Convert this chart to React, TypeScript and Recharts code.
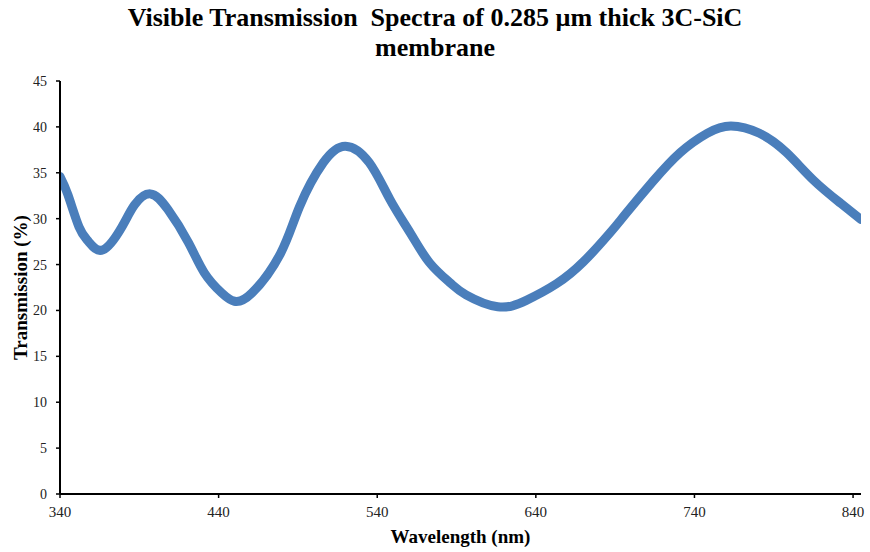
import { LineChart, Line, XAxis, YAxis } from 'recharts';

const wavelengths = [
  340, 345, 352, 358, 367, 379, 387, 397, 408, 421, 431, 442, 450, 461, 479, 491, 506, 520, 535, 548,
  561, 573, 586, 596, 616, 634, 653, 670, 687, 697, 714, 731, 748, 763, 781, 798, 815, 832, 845,
];
const transmission = [
  34.6, 32.6, 29.1, 27.5, 26.6, 29.1, 31.5, 32.7, 31.0, 27.4, 24.1, 21.9, 21.0, 21.9, 26.2, 31.3, 36.1, 37.9, 36.1, 32.1,
  28.4, 25.2, 23.0, 21.7, 20.4, 21.1, 22.9, 25.3, 28.5, 30.6, 34.1, 37.2, 39.3, 40.1, 39.3, 37.2, 34.2, 31.7, 29.9,
];
const xTicks = [340, 440, 540, 640, 740, 840];
const yTicks = [0, 5, 10, 15, 20, 25, 30, 35, 40, 45];

const data = wavelengths.map((w, i) => ({ wavelength: w, t: transmission[i] }));

const serif = '"Liberation Serif", "Times New Roman", serif';

export default function App() {
  return (
    <div style={{ position: 'absolute', left: 0, top: 0, width: 870, height: 552, background: '#fff', fontFamily: serif }}>
      <div
        style={{
          position: 'absolute',
          left: 0,
          top: 3,
          width: 870,
          textAlign: 'center',
          fontWeight: 'bold',
          fontSize: 26,
          lineHeight: '30px',
          color: '#000',
        }}
      >
        Visible Transmission&nbsp; Spectra of 0.285 µm thick 3C-SiC
        <br />
        membrane
      </div>
      <LineChart width={870} height={552} data={data} margin={{ top: 81, right: 9, bottom: 0, left: 0 }}>
        <XAxis
          dataKey="wavelength"
          type="number"
          domain={[340, 845]}
          ticks={xTicks}
          allowDataOverflow
          height={58}
          tickSize={4}
          tickMargin={8}
          axisLine={{ stroke: '#000', strokeWidth: 2 }}
          tickLine={{ stroke: '#000', strokeWidth: 1.5 }}
          tick={{ fill: '#222', fontSize: 15, fontFamily: serif }}
          label={{
            value: 'Wavelength (nm)',
            position: 'insideBottom',
            offset: 9,
            fill: '#000',
            fontSize: 19,
            fontWeight: 'bold',
            fontFamily: serif,
          }}
        />
        <YAxis
          domain={[0, 45]}
          ticks={yTicks}
          width={60}
          tickSize={4}
          tickMargin={9}
          axisLine={{ stroke: '#000', strokeWidth: 2 }}
          tickLine={{ stroke: '#000', strokeWidth: 1.5 }}
          tick={{ fill: '#222', fontSize: 14, fontFamily: serif }}
          label={{
            value: 'Transmission (%)',
            angle: -90,
            position: 'center',
            dx: -10,
            fill: '#000',
            fontSize: 19,
            fontWeight: 'bold',
            fontFamily: serif,
          }}
        />
        <Line
          type="natural"
          dataKey="t"
          stroke="#4a7ebb"
          strokeWidth={9}
          strokeLinecap="round"
          dot={false}
          isAnimationActive={false}
        />
      </LineChart>
    </div>
  );
}
